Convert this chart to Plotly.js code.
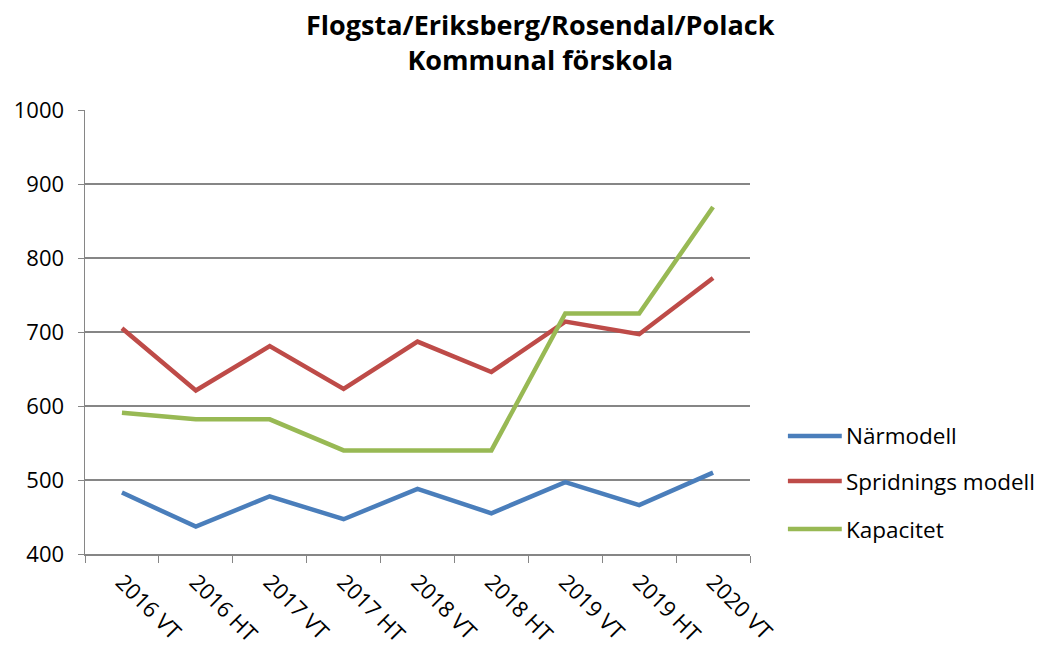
<!DOCTYPE html>
<html><head><meta charset="utf-8">
<script src="https://cdn.plot.ly/plotly-3.0.1.min.js"></script>
<style>body{margin:0;background:#fff}#c{width:1038px;height:651px}</style>
</head><body><div id="c"></div>
<script>
const categories = ["2016 VT","2016 HT","2017 VT","2017 HT","2018 VT","2018 HT","2019 VT","2019 HT","2020 VT"];
const narmodell = [483, 437, 478, 447, 488, 455, 497, 466, 510];
const spridning = [705, 621, 681, 623, 687, 646, 714, 697, 773];
const kapacitet = [591, 582, 582, 540, 540, 540, 725, 725, 869];
const seriesNames = ["Närmodell", "Spridnings modell", "Kapacitet"];
const seriesColors = ["#4A7EBB", "#BE4B48", "#98B954"];
const yTicks = [400, 500, 600, 700, 800, 900, 1000];
const titleText = "<b>Flogsta/Eriksberg/Rosendal/Polack<br>Kommunal förskola</b>";

const font = "'Open Sans', Lato, sans-serif";
const values = [narmodell, spridning, kapacitet];
const data = values.map((v, i) => ({x: categories, y: v, name: seriesNames[i],
  type: 'scatter', mode: 'lines', showlegend: false,
  line: {color: seriesColors[i], width: 4.5}}));

// legend drawn as shapes + annotations (longer line samples like the original)
const legY = [0.2658, 0.1644, 0.0563];
const shapes = [], annotations = [];
seriesNames.forEach((n, i) => {
  shapes.push({type: 'line', xref: 'paper', yref: 'paper', x0: 1.057, x1: 1.138,
    y0: legY[i], y1: legY[i], line: {color: seriesColors[i], width: 4.5}});
  annotations.push({text: n, xref: 'paper', yref: 'paper', x: 1.141, y: legY[i],
    xanchor: 'left', yanchor: 'middle', showarrow: false,
    font: {family: font, size: 22.5, color: '#000'}});
});
annotations.push({text: titleText, xref: 'paper', yref: 'paper', x: 0.685, y: 1.0,
  xanchor: 'center', yanchor: 'bottom', yshift: 30, showarrow: false,
  font: {family: font, size: 27, color: '#000'}});

const layout = {
  width: 1038, height: 651,
  margin: {l: 85, r: 288, t: 110, b: 97},
  paper_bgcolor: '#fff', plot_bgcolor: '#fff',
  font: {family: font, size: 22, color: '#000'},
  shapes: shapes, annotations: annotations, showlegend: false,
  xaxis: {type: 'category', range: [-0.5, 8.5], tickangle: 45, tickson: 'boundaries',
    ticks: 'outside', ticklen: 7, tickcolor: '#868686',
    showline: true, linecolor: '#868686', linewidth: 1.5,
    showgrid: false, zeroline: false, fixedrange: true, ticklabelstandoff: 5,
    tickfont: {family: font, size: 22}},
  yaxis: {range: [400, 1000], tickvals: yTicks, ticktext: yTicks.map(String),
    ticks: 'outside', ticklen: 6, tickcolor: '#868686',
    showline: true, linecolor: '#868686', linewidth: 1.5,
    showgrid: true, gridcolor: '#868686', gridwidth: 1.5,
    zeroline: false, fixedrange: true, ticklabelstandoff: 9,
    tickfont: {family: font, size: 22}}
};
Plotly.newPlot('c', data, layout, {displayModeBar: false, staticPlot: true});
</script></body></html>
